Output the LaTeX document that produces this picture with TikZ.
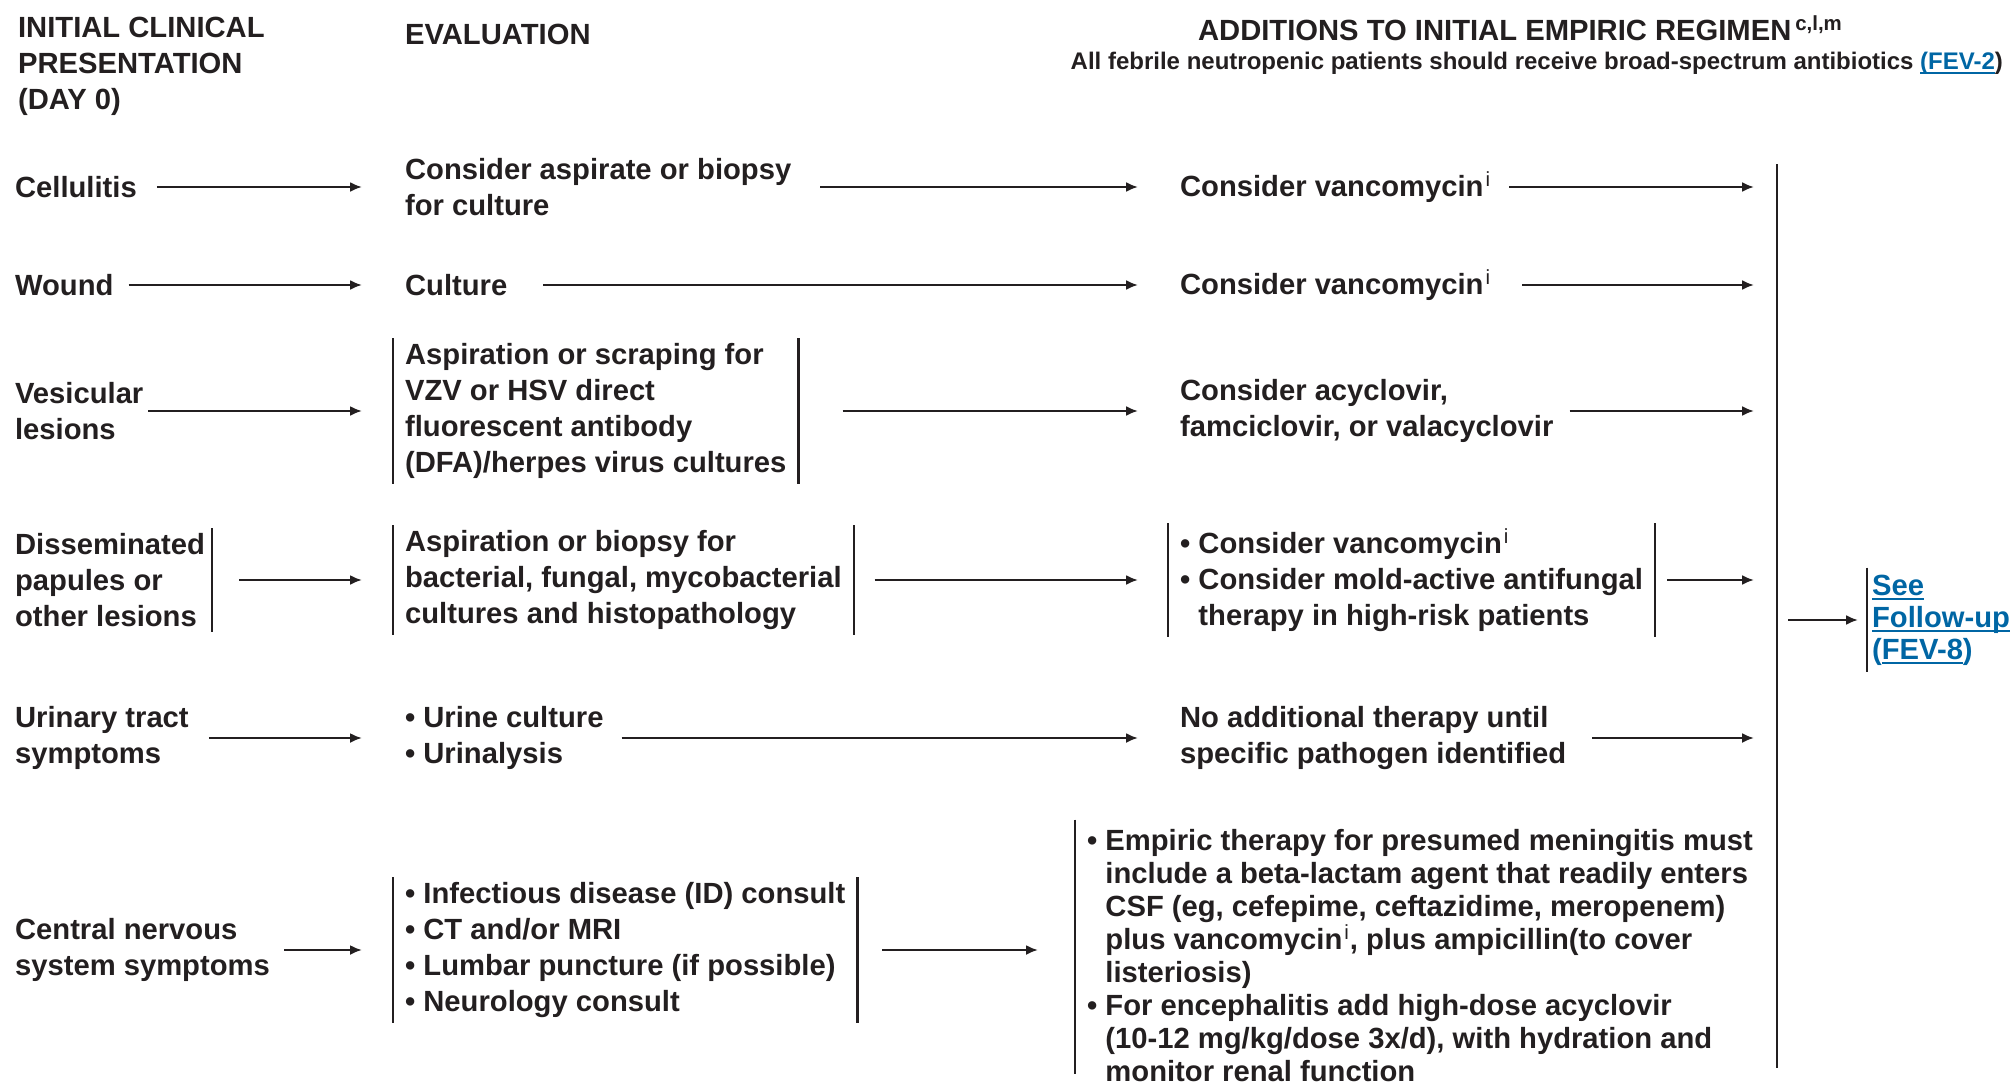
\documentclass[tikz,border=0pt]{standalone}
\usepackage{fontspec}
\setmainfont{Liberation Sans}
\usetikzlibrary{arrows.meta}
\definecolor{ink}{HTML}{231F20}
\definecolor{linkblue}{HTML}{0066A4}
\newcommand{\bitem}{\textbullet\ }
\newcommand{\bindent}{\phantom{\textbullet\ }}
\newcommand{\supi}{\textsuperscript{\kern1pt\mdseries i}}
\newcommand{\lnk}[1]{\setbox0\hbox{#1}\rlap{\rule[-2.2pt]{\wd0}{0.8pt}}\box0}

\begin{document}
\begin{tikzpicture}[x=0.5pt,y=-0.5pt,>={Latex[length=6pt,width=5pt]},line width=1.1pt,color=ink,
  every node/.style={font=\bfseries\fontsize{14.6}{18}\selectfont},
  clin node/.style={anchor=west,align=left,inner xsep=3pt,inner ysep=2pt},
  eval node/.style={anchor=west,align=left,inner xsep=5.5pt,inner ysep=2pt},
  head node/.style={align=left,inner sep=0pt}]

  \useasboundingbox (0,0) rectangle (2012,1086);

  % column heads
  \node[head node,anchor=west] (headClin) at (17,66) {INITIAL CLINICAL\\PRESENTATION\\(DAY 0)};
  \node[head node,anchor=west] (headEval) at (404,34) {EVALUATION};
  \node[head node,anchor=west] (headRx) at (1197,28) {ADDITIONS TO INITIAL EMPIRIC REGIMEN\textsuperscript{\kern2pt c,l,m}};
  \node[head node,anchor=east,font=\bfseries\fontsize{12}{14}\selectfont] (headNote) at (2004,63)
    {All febrile neutropenic patients should receive broad-spectrum antibiotics \textcolor{linkblue}{\lnk{(FEV-2}})};

  % initial clinical presentation
  \node[clin node] (cell) at (8,187) {Cellulitis};
  \node[clin node] (wound) at (8,285) {Wound};
  \node[clin node] (vesic) at (8,411) {Vesicular\\lesions};
  \node[clin node] (dissem) at (8,580) {Disseminated\\papules or\\other lesions};
  \node[clin node] (urin) at (8,738) {Urinary tract\\symptoms};
  \node[clin node] (cns) at (8,950) {Central nervous\\system symptoms};

  % evaluation
  \node[eval node] (cellEv) at (393,187) {Consider aspirate or biopsy\\for culture};
  \node[eval node] (woundEv) at (393,285) {Culture};
  \node[eval node] (vesicEv) at (393,411) {Aspiration or scraping for\\VZV or HSV direct\\fluorescent antibody\\(DFA)/herpes virus cultures};
  \node[eval node] (dissemEv) at (393,580) {Aspiration or biopsy for\\bacterial, fungal, mycobacterial\\cultures and histopathology};
  \node[eval node] (urinEv) at (393,738) {\bitem Urine culture\\\bitem Urinalysis};
  \node[eval node] (cnsEv) at (393,950) {\bitem Infectious disease (ID) consult\\\bitem CT and/or MRI\\\bitem Lumbar puncture (if possible)\\\bitem Neurology consult};

  % additions to regimen
  \node[eval node] (cellRx) at (1168,187) {Consider vancomycin\supi};
  \node[eval node] (woundRx) at (1168,285) {Consider vancomycin\supi};
  \node[eval node] (vesicRx) at (1168,411) {Consider acyclovir,\\famciclovir, or valacyclovir};
  \node[eval node] (dissemRx) at (1168,580) {\bitem Consider vancomycin\supi\\\bitem Consider mold-active antifungal\\\bindent therapy in high-risk patients};
  \node[eval node] (urinRx) at (1168,738) {No additional therapy until\\specific pathogen identified};
  \node[eval node,inner ysep=0pt,font=\bfseries\fontsize{14.6}{16.5}\selectfont] (cnsRx) at (1075,956)
    {\bitem Empiric therapy for presumed meningitis must\\\bindent include a beta-lactam agent that readily enters\\\bindent CSF (eg, cefepime, ceftazidime, meropenem)\\\bindent plus vancomycin\supi, plus ampicillin(to cover\\\bindent listeriosis)\\\bitem For encephalitis add high-dose acyclovir\\\bindent (10-12 mg/kg/dose 3x/d), with hydration and\\\bindent monitor renal function};

  % follow-up
  \coordinate (joinTop) at (1777,164);
  \coordinate (joinBot) at (1777,1068);
  \node[head node,anchor=west,inner xsep=2pt,inner ysep=3pt,text=linkblue,font=\bfseries\fontsize{14.6}{16}\selectfont] (follow) at (1867,620)
    {\lnk{See}\\\lnk{Follow-up}\\(\lnk{FEV-8})};

  % side bars
  \foreach \n in {vesicEv,dissemEv,cnsEv,dissemRx}
    \draw (\n.north west) -- (\n.south west) (\n.north east) -- (\n.south east);
  \draw (dissem.north east) -- (dissem.south east);
  \draw ([yshift=4.5pt]cnsRx.north west) -- ([yshift=4.5pt]cnsRx.south west);
  \draw (follow.north west) -- (follow.south west);
  \draw (joinTop) -- (joinBot);

  \path[->]
    ([xshift=6.5pt]cell.east) edge ([xshift=-15.5pt]cellEv.west)
    ([xshift=4pt]wound.east) edge ([xshift=-15.5pt]woundEv.west)
    ([xshift=-1pt]vesic.east) edge ([xshift=-15.5pt]vesicEv.west)
    ([xshift=13.5pt]dissem.east) edge ([xshift=-15.5pt]dissemEv.west)
    ([xshift=6.5pt]urin.east) edge ([xshift=-15.5pt]urinEv.west)
    ([xshift=3.5pt]cns.east) edge ([xshift=-15.5pt]cnsEv.west);

  \path[->]
    ([xshift=8.5pt]cellEv.east) edge ([xshift=-15pt]cellRx.west)
    ([xshift=12pt]woundEv.east) edge ([xshift=-15pt]woundRx.west)
    ([xshift=22pt]vesicEv.east) edge ([xshift=-15pt]vesicRx.west)
    ([xshift=10.5pt]dissemEv.east) edge ([xshift=-15pt]dissemRx.west)
    ([xshift=3pt]urinEv.east) edge ([xshift=-15pt]urinRx.west)
    ([xshift=12.5pt]cnsEv.east) edge ([xshift=-18.5pt]cnsRx.west |- cnsEv.east);

  \path[->]
    ([xshift=3pt]cellRx.east) edge ([xshift=-11.5pt]cellRx.east -| joinTop)
    ([xshift=9.5pt]woundRx.east) edge ([xshift=-11.5pt]woundRx.east -| joinTop)
    ([xshift=2pt]vesicRx.east) edge ([xshift=-11.5pt]vesicRx.east -| joinTop)
    ([xshift=6pt]dissemRx.east) edge ([xshift=-11.5pt]dissemRx.east -| joinTop)
    ([xshift=7pt]urinRx.east) edge ([xshift=-11.5pt]urinRx.east -| joinTop)
    ([xshift=5.5pt]follow.west -| joinTop) edge ([xshift=-4.5pt]follow.west);

\end{tikzpicture}
\end{document}
